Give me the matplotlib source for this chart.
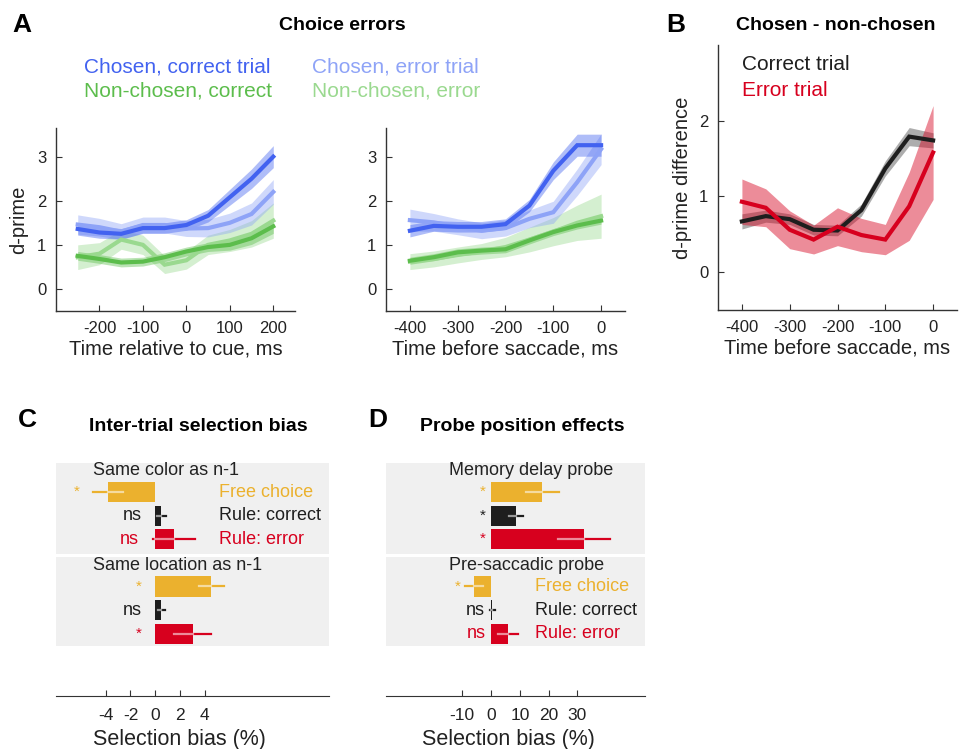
import numpy as np
import matplotlib
matplotlib.use("Agg")
import matplotlib.pyplot as plt

plt.rcParams["font.family"] = ["Liberation Sans", "DejaVu Sans"]
plt.rcParams["axes.unicode_minus"] = False

# ------------------------------------------
# Data
# ------------------------------------------

# Panel A, left: time relative to cue
t_cue = [-250, -200, -150, -100, -50, 0, 50, 100, 150, 200]
cue_chosen_corr = [1.36, 1.28, 1.25, 1.38, 1.38, 1.45, 1.66, 2.08, 2.50, 3.00]
cue_chosen_corr_se = [0.14, 0.13, 0.12, 0.12, 0.12, 0.12, 0.14, 0.18, 0.22, 0.25]
cue_chosen_err = [1.46, 1.40, 1.30, 1.45, 1.45, 1.37, 1.38, 1.50, 1.70, 2.20]
cue_chosen_err_se = [0.22, 0.20, 0.18, 0.18, 0.18, 0.18, 0.20, 0.22, 0.25, 0.28]
cue_nonch_corr = [0.75, 0.68, 0.60, 0.62, 0.72, 0.85, 0.95, 1.00, 1.15, 1.42]
cue_nonch_corr_se = [0.10, 0.10, 0.10, 0.10, 0.10, 0.10, 0.10, 0.12, 0.14, 0.16]
cue_nonch_err = [0.72, 0.80, 1.12, 1.00, 0.55, 0.65, 1.00, 1.10, 1.25, 1.55]
cue_nonch_err_se = [0.28, 0.25, 0.22, 0.22, 0.20, 0.20, 0.22, 0.25, 0.30, 0.40]

# Panel A, right / Panel B: time before saccade
t_sac = [-400, -350, -300, -250, -200, -150, -100, -50, 0]
sac_chosen_corr = [1.32, 1.43, 1.41, 1.41, 1.47, 1.89, 2.68, 3.26, 3.26]
sac_chosen_corr_se = [0.14, 0.12, 0.12, 0.12, 0.12, 0.14, 0.20, 0.25, 0.25]
sac_chosen_err = [1.56, 1.51, 1.41, 1.32, 1.38, 1.59, 1.74, 2.42, 3.17]
sac_chosen_err_se = [0.25, 0.20, 0.18, 0.18, 0.18, 0.20, 0.25, 0.30, 0.35]
sac_nonch_corr = [0.64, 0.72, 0.83, 0.87, 0.90, 1.10, 1.29, 1.44, 1.55]
sac_nonch_corr_se = [0.08, 0.08, 0.08, 0.08, 0.08, 0.08, 0.08, 0.08, 0.08]
sac_nonch_err = [0.62, 0.68, 0.77, 0.85, 0.95, 1.12, 1.30, 1.50, 1.65]
sac_nonch_err_se = [0.18, 0.18, 0.18, 0.18, 0.22, 0.28, 0.32, 0.40, 0.50]

diff_correct = [0.67, 0.74, 0.70, 0.56, 0.55, 0.82, 1.37, 1.79, 1.74]
diff_correct_se = [0.10, 0.08, 0.07, 0.07, 0.07, 0.08, 0.10, 0.12, 0.10]
diff_error = [0.93, 0.85, 0.56, 0.43, 0.60, 0.49, 0.43, 0.87, 1.58]
diff_error_se = [0.30, 0.25, 0.25, 0.19, 0.25, 0.22, 0.20, 0.45, 0.62]

# Panel C / D bars (free choice, rule correct, rule error)
cond_names = ["Free choice", "Rule: correct", "Rule: error"]
c_groups = ["Same color as n-1", "Same location as n-1"]
c_vals = [[-3.8, 0.5, 1.5], [4.5, 0.5, 3.0]]
c_errs = [[1.2, 0.4, 1.7], [1.0, 0.3, 1.5]]
c_sig = [["*", "ns", "ns"], ["*", "ns", "*"]]
c_ticks = [-4, -2, 0, 2, 4]

d_groups = ["Memory delay probe", "Pre-saccadic probe"]
d_vals = [[17.8, 8.7, 32.4], [-5.9, 0.5, 5.9]]
d_errs = [[5.7, 2.5, 9.0], [3.0, 1.0, 3.5]]
d_sig = [["*", "*", "*"], ["*", "ns", "ns"]]
d_ticks = [-10, 0, 10, 20, 30]

# colours
DBLUE = "#4262f0"
LBLUE = "#8ea3f7"
DGREEN = "#5cbd4c"
LGREEN = "#9ad98f"
BLACK = "#1e1e1e"
RED = "#d7001e"
YELLOW = "#ebb12e"
cond_colors = [YELLOW, BLACK, RED]

# ------------------------------------------
# Figure
# ------------------------------------------

W, H = 970, 749
fig = plt.figure(figsize=(W / 100, H / 100), dpi=100)


def axes_px(x0, y0, x1, y1):
    return fig.add_axes([x0 / W, 1 - y1 / H, (x1 - x0) / W, (y1 - y0) / H])


def style_line_axes(ax):
    for s in ["top", "right"]:
        ax.spines[s].set_visible(False)
    for s in ["left", "bottom"]:
        ax.spines[s].set_color("#333333")
        ax.spines[s].set_linewidth(1.0)
    ax.tick_params(direction="in", length=4, width=0.8, colors="#333333",
                   labelsize=12, labelcolor="#222222", pad=7)


def band(ax, x, y, se, color, alpha=0.42, lw=3):
    y = np.array(y)
    se = np.array(se)
    ax.fill_between(x, y - se, y + se, color=color, alpha=alpha, lw=0)
    ax.plot(x, y, color=color, lw=lw, solid_joinstyle="miter")


# Panel A left
axA1 = axes_px(56, 128, 295, 311)
style_line_axes(axA1)
band(axA1, t_cue, cue_nonch_err, cue_nonch_err_se, LGREEN)
band(axA1, t_cue, cue_nonch_corr, cue_nonch_corr_se, DGREEN)
band(axA1, t_cue, cue_chosen_err, cue_chosen_err_se, LBLUE)
band(axA1, t_cue, cue_chosen_corr, cue_chosen_corr_se, DBLUE)
axA1.set_xlim(-300, 250)
axA1.set_ylim(-0.5, 3.65)
axA1.set_xticks([-200, -100, 0, 100, 200])
axA1.set_yticks([0, 1, 2, 3])
axA1.set_xlabel("Time relative to cue, ms", fontsize=14.5, color="#222222", labelpad=3)
axA1.set_ylabel("d-prime", fontsize=14.5, color="#222222", labelpad=6)

# Panel A right
axA2 = axes_px(386, 128, 625, 311)
style_line_axes(axA2)
band(axA2, t_sac, sac_nonch_err, sac_nonch_err_se, LGREEN)
band(axA2, t_sac, sac_nonch_corr, sac_nonch_corr_se, DGREEN)
band(axA2, t_sac, sac_chosen_err, sac_chosen_err_se, LBLUE)
band(axA2, t_sac, sac_chosen_corr, sac_chosen_corr_se, DBLUE)
axA2.set_xlim(-450, 50)
axA2.set_ylim(-0.5, 3.65)
axA2.set_xticks([-400, -300, -200, -100, 0])
axA2.set_yticks([0, 1, 2, 3])
axA2.set_xlabel("Time before saccade, ms", fontsize=14.5, color="#222222", labelpad=3)

# Panel B
axB = axes_px(718, 45, 957, 310)
style_line_axes(axB)
band(axB, t_sac, diff_correct, diff_correct_se, "#777777", alpha=0.6)
axB.lines[-1].set_color(BLACK)
band(axB, t_sac, diff_error, diff_error_se, RED, alpha=0.45)
axB.set_xlim(-450, 50)
axB.set_ylim(-0.5, 3.0)
axB.set_xticks([-400, -300, -200, -100, 0])
axB.set_yticks([0, 1, 2])
axB.set_xlabel("Time before saccade, ms", fontsize=14.5, color="#222222", labelpad=3)
axB.set_ylabel("d-prime difference", fontsize=14.5, color="#222222", labelpad=5)

# legends / titles, top row
fig.text(22 / W, 1 - 25 / H, "A", fontsize=19, fontweight="bold", ha="center", va="center")
fig.text(676 / W, 1 - 25 / H, "B", fontsize=19, fontweight="bold", ha="center", va="center")
fig.text(342 / W, 1 - 25 / H, "Choice errors", fontsize=14, fontweight="bold", ha="center", va="center")
fig.text(836 / W, 1 - 25 / H, "Chosen - non-chosen", fontsize=14, fontweight="bold", ha="center", va="center")
fig.text(84 / W, 1 - 67 / H, "Chosen, correct trial", fontsize=15, color=DBLUE, va="center")
fig.text(312 / W, 1 - 67 / H, "Chosen, error trial", fontsize=15, color=LBLUE, va="center")
fig.text(84 / W, 1 - 91 / H, "Non-chosen, correct", fontsize=15, color=DGREEN, va="center")
fig.text(312 / W, 1 - 91 / H, "Non-chosen, error", fontsize=15, color=LGREEN, va="center")
fig.text(742 / W, 1 - 65 / H, "Correct trial", fontsize=15, color=BLACK, va="center")
fig.text(742 / W, 1 - 90 / H, "Error trial", fontsize=15, color=RED, va="center")


# ------------------------------------------
# Bar panels C and D
# ------------------------------------------

def bar_panel(ax, groups, vals, errs, sig, ticks, xlim, label_x, legend_x,
              legend_group, gap):
    ax.set_xlim(*xlim)
    ax.set_ylim(9.64, -0.57)
    for s in ["top", "right", "left"]:
        ax.spines[s].set_visible(False)
    ax.spines["bottom"].set_color("#333333")
    ax.set_yticks([])
    ax.set_xticks(ticks)
    ax.tick_params(axis="x", direction="in", length=4, width=0.8, colors="#333333",
                   labelsize=12.5, labelcolor="#222222", pad=9)
    ax.set_xlabel("Selection bias (%)", fontsize=15.5, color="#222222", labelpad=1)
    for g, name in enumerate(groups):
        top = 4.0 * g
        ax.add_patch(plt.Rectangle((xlim[0], top - 0.23), xlim[1] - xlim[0],
                                   3.86 - 0.1 * g, color="#f0f0f0", lw=0, zorder=0))
        ax.text(label_x, top + 0.1, name, fontsize=13, color="#222222", va="center")
        for k in range(3):
            y = top + 1 + k
            v = vals[g][k]
            e = errs[g][k]
            c = cond_colors[k]
            ax.barh(y, v, height=0.85, color=c, zorder=2)
            ax.plot([v - e, v + e], [y, y], color=c, lw=1.6, zorder=3)
            lo = max(v - e, min(0, v))
            hi = min(v + e, max(0, v))
            if hi > lo:
                ax.plot([lo, hi], [y, y], color="white", alpha=0.55, lw=1.6, zorder=4)
            sx = min(0, v - e) - gap
            fs = 13 if sig[g][k] == "ns" else 11
            ax.text(sx, y, sig[g][k], fontsize=fs, color=c, ha="right", va="center")
            if g == legend_group:
                ax.text(legend_x, y, cond_names[k], fontsize=13, color=c, va="center")


axC = axes_px(56, 455, 329, 696)
bar_panel(axC, c_groups, c_vals, c_errs, c_sig, c_ticks, (-8, 14), -5.0, 5.1, 0, 1.1)
axC.xaxis.set_label_coords((179 - 56) / (329 - 56), -0.135)

axD = axes_px(386, 455, 645, 696)
bar_panel(axD, d_groups, d_vals, d_errs, d_sig, d_ticks, (-36.5, 53.5), -14.6, 15.3, 1, 1.7)
axD.xaxis.set_label_coords((508 - 386) / (645 - 386), -0.135)

fig.text(27 / W, 1 - 420 / H, "C", fontsize=19, fontweight="bold", ha="center", va="center")
fig.text(378 / W, 1 - 420 / H, "D", fontsize=19, fontweight="bold", ha="center", va="center")
fig.text(198 / W, 1 - 427 / H, "Inter-trial selection bias", fontsize=14, fontweight="bold",
         ha="center", va="center")
fig.text(522 / W, 1 - 427 / H, "Probe position effects", fontsize=14, fontweight="bold",
         ha="center", va="center")

plt.savefig("out.png", dpi=100)
